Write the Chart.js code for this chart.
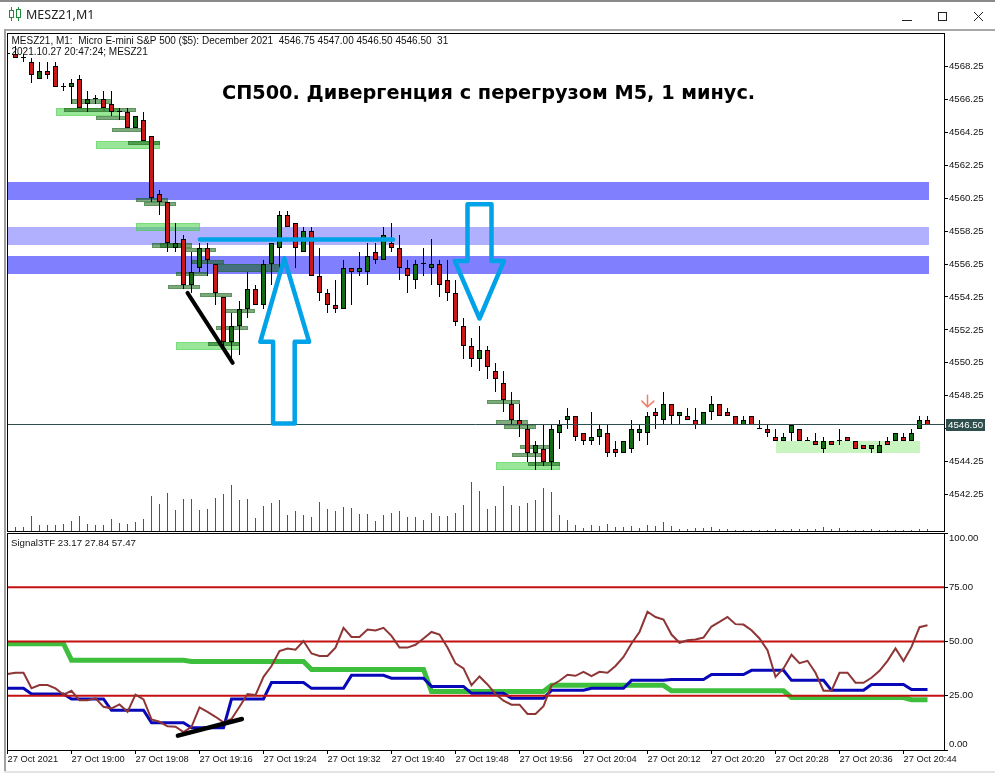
<!DOCTYPE html>
<html>
<head>
<meta charset="utf-8">
<title>MESZ21,M1</title>
<script src="https://cdn.jsdelivr.net/npm/chart.js@4/dist/chart.umd.min.js"></script>
<style>
  body { margin: 0; background: #fff; }
  #win { position: relative; width: 995px; height: 776px; overflow: hidden; background: #fff; font-family: "Liberation Sans", sans-serif; color: #111; }
  #win canvas { position: absolute; left: 0; }
  #topline { position: absolute; left: 0; top: 0; width: 995px; height: 2px; background: #8a8a8a; }
  #frametop { position: absolute; left: 4px; top: 29px; width: 991px; height: 2px; background: #a8a8a8; }
  #frameleft { position: absolute; left: 4px; top: 29px; width: 2px; height: 742px; background: #a0a0a0; }
  #framebottom { position: absolute; left: 4px; top: 771px; width: 991px; height: 2px; background: #e4e4e4; }
  .txt { position: absolute; white-space: pre; z-index: 3; }
  #wintitle { left: 26px; top: 6px; font: 12.5px "Noto Sans", sans-serif; color: #222; }
  #info1 { left: 11.5px; top: 34.5px; font-size: 10px; }
  #info2 { left: 11.5px; top: 45.5px; font-size: 10px; }
  #sigtext { left: 11px; top: 537px; font-size: 9.7px; }
  #headline { left: 222px; top: 81px; font: bold 19.3px "DejaVu Sans", sans-serif; color: #000; }
</style>
</head>
<body>
<div id="win">
  <div id="topline"></div>
  <svg style="position:absolute;left:8px;top:7px" width="14" height="14">
    <path d="M3.5 0v14M10.5 0v14" stroke="#1f8a3a"/>
    <rect x="1.5" y="3.5" width="4" height="7" fill="#fff" stroke="#1f8a3a"/>
    <rect x="8.5" y="2.5" width="4" height="8" fill="#fff" stroke="#1f8a3a"/>
  </svg>
  <div class="txt" id="wintitle">MESZ21,M1</div>
  <svg style="position:absolute;left:902px;top:18px" width="10" height="4"><path d="M0 2.5H10" stroke="#222"/></svg>
  <svg style="position:absolute;left:937px;top:11px" width="11" height="11"><rect x="1.5" y="1.5" width="8" height="8" fill="none" stroke="#222"/></svg>
  <svg style="position:absolute;left:973px;top:11px" width="11" height="11"><path d="M1 1L10 10M10 1L1 10" stroke="#222"/></svg>
  <div id="frametop"></div>
  <div id="frameleft"></div>
  <div id="framebottom"></div>
  <canvas id="priceChart" width="995" height="533" style="top:0"></canvas>
  <canvas id="signalChart" width="995" height="244" style="top:532px"></canvas>
  <div class="txt" id="info1">MESZ21, M1:  Micro E-mini S&amp;P 500 ($5): December 2021  4546.75 4547.00 4546.50 4546.50  31</div>
  <div class="txt" id="info2">2021.10.27 20:47:24; MESZ21</div>
  <div class="txt" id="headline">СП500. Дивергенция с перегрузом М5, 1 минус.</div>
  <div class="txt" id="sigtext">Signal3TF 23.17 27.84 57.47</div>
</div>
<script>
// candles, first one is the half cut bar on the left edge
var opens = [4569,
  4569,4568.75,4568.5,4567.5,4568,4568.25,4567,4567,4567.5,4566,
  4566.25,4566.25,4566,4565.5,4565.5,4564.5,4565,4564,4560.5,4560,
  4557.25,4557.75,4555,4556,4557.25,4556.25,4554.25,4551.5,4552.5,4553.5,
  4554.75,4553.75,4556.25,4557.25,4559.25,4558.75,4557,4558.25,4555.5,4554.5,
  4553.75,4553.5,4556,4555.75,4555.75,4557,4556.5,4557.5,4557.25,4556,
  4555.25,4556.25,4556,4556.25,4555.25,4554.5,4552.5,4551.25,4550.5,4551,
  4549.75,4549,4547.75,4546.75,4546.25,4544.75,4545,4544.25,4546,4546.75,
  4547,4546,4545.5,4545.75,4546,4545,4544.75,4545,4546,4546,
  4547.25,4546.75,4547.75,4547,4547,4546.75,4546.5,4547.25,4547.75,4547.25,
  4547,4546.5,4547,4546.25,4546.25,4545.75,4545.5,4546,4546.25,4545.5,
  4545.5,4545,4545.5,4545.5,4545.75,4545.5,4545.25,4545,4544.75,4545.5,
  4545.5,4545.75,4545.5,4546.25,4546.75];
var closes = [4569,
  4568.75,4568.75,4567.75,4568,4567.75,4567,4567,4567.25,4565.75,4566.25,
  4566.25,4565.75,4565.5,4565.5,4564.5,4565.25,4563.75,4560.25,4560,4557.5,
  4557.5,4555,4555.75,4557.25,4556.5,4554.5,4551.5,4552.5,4553.5,4554.75,
  4553.75,4556.25,4557.5,4559.25,4558.5,4557.25,4558.25,4555.5,4554.5,4553.75,
  4553.5,4556,4555.75,4556,4556.75,4556.5,4558,4557.25,4556,4555.5,
  4556.25,4556.25,4556.25,4555,4554.5,4552.75,4551.25,4550.5,4551,4550,
  4549.25,4548,4546.75,4546.5,4544.75,4545.25,4544.25,4546.25,4546.5,4547,
  4545.75,4545.5,4545.75,4546.25,4544.75,4544.75,4545.5,4546.25,4546.25,4547,
  4547,4547.75,4547,4547.25,4546.75,4546.5,4547.25,4547.75,4547,4547,
  4546.5,4546.75,4546.5,4546.25,4546,4545.5,4545.75,4546.5,4545.5,4545.5,
  4545.25,4545.5,4545.25,4545.5,4545.5,4545,4545,4545.25,4545.25,4545.25,
  4546,4545.5,4546,4546.75,4546.5];
var highs = [4569.25,
  4569.5,4569,4568.75,4568.5,4568.5,4568.5,4567.25,4567.5,4567.75,4566.75,
  4566.5,4566.75,4566.75,4565.75,4565.75,4565.25,4565.5,4564,4560.75,4560,
  4558.75,4558,4557,4557.5,4557.5,4556.25,4554.25,4553.25,4554,4555.75,
  4555,4556.5,4557.5,4559.5,4559.5,4558.75,4558.5,4558.5,4557.25,4554.75,
  4555.25,4556.5,4556,4557,4557.5,4557.5,4558.5,4558.75,4558,4556.5,
  4556.5,4557.25,4557.75,4556.5,4556.5,4555.25,4553,4551.75,4552.5,4551.25,
  4550.25,4549.75,4548.5,4547.75,4546.5,4545.5,4546.5,4546.5,4546.75,4547.5,
  4547,4546,4547.25,4546.5,4546.5,4545.5,4545.5,4546.75,4546.5,4547.25,
  4547.5,4548.5,4547.75,4547.25,4547.5,4547.5,4547.25,4548.25,4547.75,4547.5,
  4547,4547,4547,4546.75,4546.5,4546.25,4546,4546.5,4546.25,4545.75,
  4546,4545.75,4545.5,4546.25,4545.75,4545.5,4545.25,4545.25,4545.5,4545.75,
  4546,4546,4546.25,4547,4547];
var lows = [4568.75,
  4568.75,4568.5,4567.25,4567.5,4567.5,4567,4566.75,4566,4565.75,4565.5,
  4566,4565.75,4565.25,4565,4564.5,4564.5,4563.75,4560,4559.25,4557,
  4557,4554.75,4554.5,4555.75,4555.5,4553.75,4551.25,4550.25,4550.75,4553,
  4553.75,4553.5,4555,4556,4558.5,4556,4557,4555.5,4554,4553.25,
  4553.25,4553.5,4553.75,4555.5,4555,4556.25,4556.5,4557,4555.25,4554.5,
  4554.75,4555.5,4555,4554.25,4554,4552.5,4550.5,4550,4549.75,4549.25,
  4548.5,4547.25,4546.5,4545.75,4544.25,4543.75,4544,4543.75,4545,4546.25,
  4545.5,4545.25,4545.25,4545.25,4544.5,4544.5,4544.75,4544.75,4545.5,4545.25,
  4546.25,4546.5,4546.5,4546.5,4546.75,4546.25,4546.5,4546.75,4547,4547,
  4546.5,4546.5,4546.5,4546.25,4545.75,4545.5,4545.5,4545.5,4545.5,4545.5,
  4545.25,4544.75,4545.25,4545.25,4545.5,4545,4545,4544.75,4544.75,4545.25,
  4545.5,4545.5,4545.5,4546.25,4546.5];
var volumes = [0,
  60,60,225,90,90,90,105,150,225,105,90,90,180,120,105,135,180,525,405,570,
  315,480,480,315,330,495,555,690,465,480,195,375,420,465,240,300,240,210,435,330,
  300,360,345,255,255,150,240,270,300,210,210,165,270,225,225,270,390,735,600,330,
  375,675,390,375,420,465,645,585,240,165,90,45,90,75,105,60,60,75,45,90,75,
  135,75,30,30,45,45,60,30,30,
  15,15,15,15,15,30,15,30,30,30,30,60,30,45,15,15,15,30,15,15,15,15,15,30,31];

// Signal3TF lines
var signalGreen = [49,49,49,49,49,49,49,49,
  41.4,41.4,41.4,41.4,41.4,41.4,41.4,41.4,41.4,41.4,41.4,41.4,41.4,41.4,41.4,
  40.8,40.8,40.8,40.8,40.8,40.8,40.8,40.8,40.8,40.8,40.8,40.8,40.8,40.8,40.8,
  37.1,37.1,37.1,37.1,37.1,37.1,37.1,37.1,37.1,37.1,37.1,37.1,37.1,37.1,37.1,
  27,27,27,27,27,27,27,27,27,27,27,27,27,27,27,
  29.8,29.8,29.8,29.8,29.8,29.8,29.8,29.8,29.8,29.8,29.8,29.8,29.8,29.8,29.8,
  27.3,27.3,27.3,27.3,27.3,27.3,27.3,27.3,27.3,27.3,27.3,27.3,27.3,27.3,27.3,
  24.2,24.2,24.2,24.2,24.2,24.2,24.2,24.2,24.2,24.2,24.2,24.2,24.2,24.2,24.2,
  23.17,23.17,23.17];
var signalBlue = [28.4,28.4,28.4,
  25.8,25.8,25.8,25.8,25.8, 23.5,23.5,23.5,23.5,23.5, 18.3,18.3,18.3,18.3,18.3,
  12.6,12.6,12.6,12.6,12.6, 10.3,10.3,10.3,10.3,10.3, 23.5,23.5,23.5,23.5,23.5,
  31.1,31.1,31.1,31.1,31.1, 28.4,28.4,28.4,28.4,28.4, 34.4,34.4,34.4,34.4,34.4,
  33.1,33.1,33.1,33.1,33.1, 29.3,29.3,29.3,29.3,29.3, 26.1,26.1,26.1,26.1,26.1,
  23.8,23.8,23.8,23.8,23.8, 27.5,27.5,27.5,27.5,27.5, 28.4,28.4,28.4,28.4,28.4,
  32.1,32.1,32.1,32.1,32.1, 32.5,32.5,32.5,32.5,32.5, 34.8,34.8,34.8,34.8,34.8,
  36.7,36.7,36.7,36.7,36.7, 32.1,32.1,32.1,32.1,32.1, 27.5,27.5,27.5,27.5,27.5,
  30.2,30.2,30.2,30.2,30.2, 27.84,27.84,27.84];
var signalBrown = [35,35.6,35.6,28.5,29.9,29.9,28.4,25.5,27.3,22.9,
  22.9,23.8,19.9,19.2,21,17.6,25.5,23.3,14.1,13,
  10.9,10.7,8.3,10.7,19.6,17.6,15.3,12.7,14.3,19.9,
  25.8,25.3,33.7,38.7,45.6,46.8,46.2,50.2,44.5,43.3,
  43.3,47.2,56.3,52.1,52.1,55.5,55.1,56.3,52.6,47.2,
  47.2,48.5,51.4,54.4,53.2,47.2,39.9,37.6,29.9,33.9,
  30.2,25.8,22.7,20.9,20.9,16.6,16.6,20.2,29.8,31.9,
  34.7,34.2,36,34,36,35.6,38.7,42.9,49.1,54.4,
  63.7,61.3,60.1,53.2,49.4,50.6,50.9,51.8,56.9,59,
  61.3,58,57.8,55.2,51.4,46,33.7,37.6,43.9,40,
  41.1,35.6,27.3,27.3,35.6,35.6,31,31,33.3,36.5,
  41.1,46.8,41,47.5,56.6,57.47];
var signalLevels = [25, 50, 75];

// axes
var priceTicks = [4568.25,4566.25,4564.25,4562.25,4560.25,4558.25,4556.25,4554.25,4552.25,4550.25,4548.25,4546.25,4544.25,4542.25];
var signalTicks = [0, 25, 50, 75, 100];
var timeTickBars = [0,8,16,24,32,40,48,56,64,72,80,88,96,104,112];
var timeTickLabels = ['27 Oct 2021','27 Oct 19:00','27 Oct 19:08','27 Oct 19:16','27 Oct 19:24','27 Oct 19:32','27 Oct 19:40','27 Oct 19:48','27 Oct 19:56','27 Oct 20:04','27 Oct 20:12','27 Oct 20:20','27 Oct 20:28','27 Oct 20:36','27 Oct 20:44'];
var lastPrice = 4546.5;

// horizontal levels behind the candles
var bandHigh = [4561.22, 4558.47, 4556.73];
var bandLow = [4560.14, 4557.4, 4555.65];

// supply/demand boxes: first bar, last bar, top price, bottom price
var paleFrom = [96], paleTo = [114], paleHigh = [4545.5], paleLow = [4544.75];
var lightFrom = [6,11,16,21,61];
var lightTo = [14,19,24,29,69];
var lightHigh = [4565.75,4563.75,4558.75,4551.5,4544.25];
var lightLow = [4565.25,4563.25,4558.25,4551,4543.75];
var darkFrom = [8,7,12,11,13,15,16,17,18,19,22,23,21,20,24,27,26,25,26,60,61,62,64,63,65];
var darkTo = [13,12,16,15,17,19,20,21,22,23,26,27,25,24,28,31,30,29,34,64,65,66,68,67,69];
var darkHigh = [4566.25,4565.75,4565.75,4565.25,4564.5,4563.75,4560.25,4560,4557.5,4557.5,4557.25,4556.5,4555.75,4555,4554.5,4553.5,4552.5,4551.5,4556.25,4548,4546.75,4546.5,4545.25,4544.75,4544.25];
var darkLow = [4566,4565.5,4565.5,4565,4564.25,4563.5,4560,4559.75,4557.25,4557.25,4557,4556.25,4555.5,4554.75,4554.25,4553.25,4552.25,4551.25,4555.75,4547.75,4546.5,4546.25,4545,4544.5,4544];

// hand drawn marks on the chart
var upArrowBars = [34.6,37.7,35.9,35.9,33.2,33.2,31.6,34.6];
var upArrowPrices = [4556.59,4551.52,4551.52,4546.56,4546.56,4551.52,4551.52,4556.59];
var downArrowBars = [57.5,60.5,60.5,62.06,59,55.9,57.5,57.5];
var downArrowPrices = [4559.88,4559.88,4556.44,4556.44,4552.94,4556.44,4556.44,4559.88];
var levelBars = [24.06, 48.2];
var levelPrices = [4557.74, 4557.74];
var trendBars = [22.5, 28.15];
var trendPrices = [4554.5, 4550.24];
var sellMarkBars = [80,80,79.3,80,80.8];
var sellMarkPrices = [4548.28,4547.57,4547.92,4547.57,4547.92];
var signalTrendBars = [21.3, 29.3];
var signalTrendValues = [6.6, 14.3];

var barIndex = opens.map(function (o, i) { return i; });
var xMin = -0.0625, xMax = 117.0625;
var fontName = '"Liberation Sans", sans-serif';

function toPoints(xs, ys) {
  return xs.map(function (x, i) { return { x: x, y: ys[i] }; });
}

function markLine(xs, ys, color, width, order) {
  return {
    type: 'line',
    data: toPoints(xs, ys),
    borderColor: color,
    borderWidth: width,
    borderJoinStyle: 'round',
    borderCapStyle: 'round',
    pointRadius: 0,
    tension: 0,
    order: order
  };
}

function levelLine(value) {
  return {
    data: [{ x: xMin, y: value }, { x: xMax, y: value }],
    borderColor: '#c41010',
    borderWidth: 2,
    pointRadius: 0,
    order: 3
  };
}

function drawBoxes(chart, from, to, high, low, fill, stroke) {
  var ctx = chart.ctx, x = chart.scales.x, y = chart.scales.y;
  from.forEach(function (start, i) {
    var left = Math.round(x.getPixelForValue(start));
    var right = Math.round(x.getPixelForValue(to[i]));
    var top = Math.round(y.getPixelForValue(high[i]));
    var bottom = Math.round(y.getPixelForValue(low[i]));
    ctx.fillStyle = fill;
    ctx.fillRect(left, top, right - left, bottom - top);
    if (stroke) {
      ctx.strokeStyle = stroke;
      ctx.lineWidth = 1;
      ctx.strokeRect(left + 0.5, top + 0.5, right - left - 1, bottom - top - 1);
    }
  });
}

var framePlugin = {
  id: 'frame',
  afterDraw: function (chart) {
    var a = chart.chartArea, ctx = chart.ctx;
    ctx.save();
    ctx.strokeStyle = '#000';
    ctx.lineWidth = 1;
    ctx.strokeRect(a.left + 0.5, a.top + 0.5, a.right - a.left, a.bottom - a.top);
    ctx.restore();
  }
};

var snapPlugin = {
  id: 'snap',
  afterDatasetsUpdate: function (chart) {
    chart.data.datasets.forEach(function (ds, i) {
      if (ds.type !== 'bar') return;
      chart.getDatasetMeta(i).data.forEach(function (el) {
        el.y = Math.round(el.y);
        el.base = Math.round(el.base);
      });
    });
  }
};

var zonesPlugin = {
  id: 'zones',
  beforeDatasetsDraw: function (chart) {
    var ctx = chart.ctx, a = chart.chartArea;
    ctx.save();
    ctx.beginPath();
    ctx.rect(a.left, a.top, a.right - a.left, a.bottom - a.top);
    ctx.clip();
    var bandColors = ['#8080ff', '#b0b0ff', '#8080ff'];
    bandHigh.forEach(function (h, i) {
      var top = Math.round(chart.scales.y.getPixelForValue(h));
      var bottom = Math.round(chart.scales.y.getPixelForValue(bandLow[i]));
      var right = Math.round(chart.scales.x.getPixelForValue(115.2));
      ctx.fillStyle = bandColors[i];
      ctx.fillRect(a.left, top, right - a.left, bottom - top);
    });
    drawBoxes(chart, paleFrom, paleTo, paleHigh, paleLow, '#c8f5c0', null);
    drawBoxes(chart, lightFrom, lightTo, lightHigh, lightLow, 'rgba(70,210,70,0.55)', 'rgba(70,200,70,0.35)');
    drawBoxes(chart, darkFrom, darkTo, darkHigh, darkLow, 'rgba(20,100,20,0.55)', 'rgba(20,90,20,0.3)');
    ctx.restore();
  }
};

var priceLabelPlugin = {
  id: 'priceLabel',
  afterDraw: function (chart) {
    var ctx = chart.ctx, y = Math.round(chart.scales.y.getPixelForValue(lastPrice));
    ctx.save();
    ctx.fillStyle = '#2f4f4f';
    ctx.fillRect(946, y - 6, 39, 12);
    ctx.fillStyle = '#fff';
    ctx.font = '9.7px ' + fontName;
    ctx.textBaseline = 'middle';
    ctx.fillText(lastPrice.toFixed(2), 948, y + 0.5);
    ctx.restore();
  }
};

var edgeLabelPlugin = {
  id: 'edgeLabel',
  beforeDraw: function (chart) {
    var items = chart.scales.y.getLabelItems();
    items[0].options.translation[1] -= 6;
    items[items.length - 1].options.translation[1] += 5;
  }
};

var tickFont = { family: fontName, size: 9.6 };

new Chart(document.getElementById('priceChart'), {
  type: 'bar',
  data: {
    datasets: [
      markLine(sellMarkBars, sellMarkPrices, '#ef7f6a', 1.5, 2),
      markLine(upArrowBars, upArrowPrices, '#00a2e8', 4.5, 1),
      markLine(downArrowBars, downArrowPrices, '#00a2e8', 4.5, 1),
      markLine(levelBars, levelPrices, '#00a2e8', 4.5, 1),
      markLine(trendBars, trendPrices, '#000', 4, 1),
      {
        type: 'line',
        data: [{ x: xMin, y: lastPrice }, { x: xMax, y: lastPrice }],
        borderColor: '#2f4f4f',
        borderWidth: 1,
        pointRadius: 0,
        order: 3
      },
      {
        type: 'bar',
        data: barIndex.map(function (i) { return { x: i, y: [opens[i], closes[i]] }; }),
        backgroundColor: barIndex.map(function (i) { return closes[i] >= opens[i] ? '#156a15' : '#c81818'; }),
        borderColor: '#000',
        borderWidth: 1,
        borderSkipped: false,
        barThickness: 5,
        minBarLength: 1,
        inflateAmount: 0,
        grouped: false,
        order: 4
      },
      {
        type: 'bar',
        data: barIndex.map(function (i) { return { x: i, y: [lows[i], highs[i]] }; }),
        backgroundColor: '#000',
        borderWidth: 0,
        barThickness: 1,
        inflateAmount: 0,
        grouped: false,
        order: 5
      },
      {
        type: 'bar',
        yAxisID: 'yVol',
        data: barIndex.map(function (i) { return { x: i, y: volumes[i] }; }),
        backgroundColor: '#1c7a1c',
        borderWidth: 0,
        barThickness: 1,
        inflateAmount: 0,
        grouped: false,
        order: 6
      }
    ]
  },
  options: {
    responsive: false,
    animation: false,
    events: [],
    devicePixelRatio: 1,
    layout: { padding: { left: 7, top: 33, right: 0, bottom: 2 } },
    plugins: { legend: { display: false }, tooltip: { enabled: false } },
    scales: {
      x: { type: 'linear', offset: false, display: false, min: xMin, max: xMax },
      y: {
        position: 'right',
        min: 4540.03,
        max: 4570.285,
        afterBuildTicks: function (s) { s.ticks = priceTicks.map(function (v) { return { value: v }; }); },
        afterFit: function (s) { s.width = 51; s.paddingTop = 0; s.paddingBottom = 0; },
        grid: { drawOnChartArea: false, drawTicks: true, tickLength: 4, color: '#000' },
        border: { display: false },
        ticks: {
          color: '#111',
          font: tickFont,
          padding: 1,
          autoSkip: false,
          callback: function (v) { return v.toFixed(2); }
        }
      },
      yVol: { display: false, min: 0, max: 7470 }
    }
  },
  plugins: [snapPlugin, zonesPlugin, framePlugin, priceLabelPlugin]
});

new Chart(document.getElementById('signalChart'), {
  type: 'line',
  data: {
    datasets: [
      {
        data: toPoints(barIndex, signalBrown),
        borderColor: '#8e3535',
        borderWidth: 2,
        pointRadius: 0,
        tension: 0,
        order: 2
      },
      markLine(signalTrendBars, signalTrendValues, '#000', 4.5, 1),
      levelLine(signalLevels[0]),
      levelLine(signalLevels[1]),
      levelLine(signalLevels[2]),
      {
        data: toPoints(barIndex, signalBlue),
        borderColor: '#0808b8',
        borderWidth: 3,
        pointRadius: 0,
        tension: 0,
        order: 4
      },
      {
        data: toPoints(barIndex, signalGreen),
        borderColor: '#3dbf3d',
        borderWidth: 5,
        pointRadius: 0,
        tension: 0,
        order: 5
      }
    ]
  },
  options: {
    responsive: false,
    animation: false,
    events: [],
    devicePixelRatio: 1,
    layout: { padding: { left: 7, top: 1, right: 0, bottom: 0 } },
    plugins: { legend: { display: false }, tooltip: { enabled: false } },
    scales: {
      x: {
        type: 'linear',
        min: xMin,
        max: xMax,
        afterBuildTicks: function (s) { s.ticks = timeTickBars.map(function (v) { return { value: v }; }); },
        afterFit: function (s) { s.height = 26; s.paddingLeft = 0; s.paddingRight = 0; },
        grid: { drawOnChartArea: false, drawTicks: true, tickLength: 4, color: '#000' },
        border: { display: false },
        ticks: {
          color: '#111',
          font: { family: fontName, size: 9.3 },
          padding: 0,
          align: 'start',
          autoSkip: false,
          maxRotation: 0,
          callback: function (v) { return timeTickLabels[timeTickBars.indexOf(v)]; }
        }
      },
      y: {
        position: 'right',
        min: 0,
        max: 100,
        afterBuildTicks: function (s) { s.ticks = signalTicks.map(function (v) { return { value: v }; }); },
        afterFit: function (s) { s.width = 51; s.paddingTop = 0; s.paddingBottom = 0; },
        grid: { drawOnChartArea: false, drawTicks: true, tickLength: 4, color: '#000' },
        border: { display: false },
        ticks: {
          color: '#111',
          font: tickFont,
          padding: 1,
          autoSkip: false,
          callback: function (v) { return v.toFixed(2); }
        }
      }
    }
  },
  plugins: [framePlugin, edgeLabelPlugin]
});
</script>
</body>
</html>
